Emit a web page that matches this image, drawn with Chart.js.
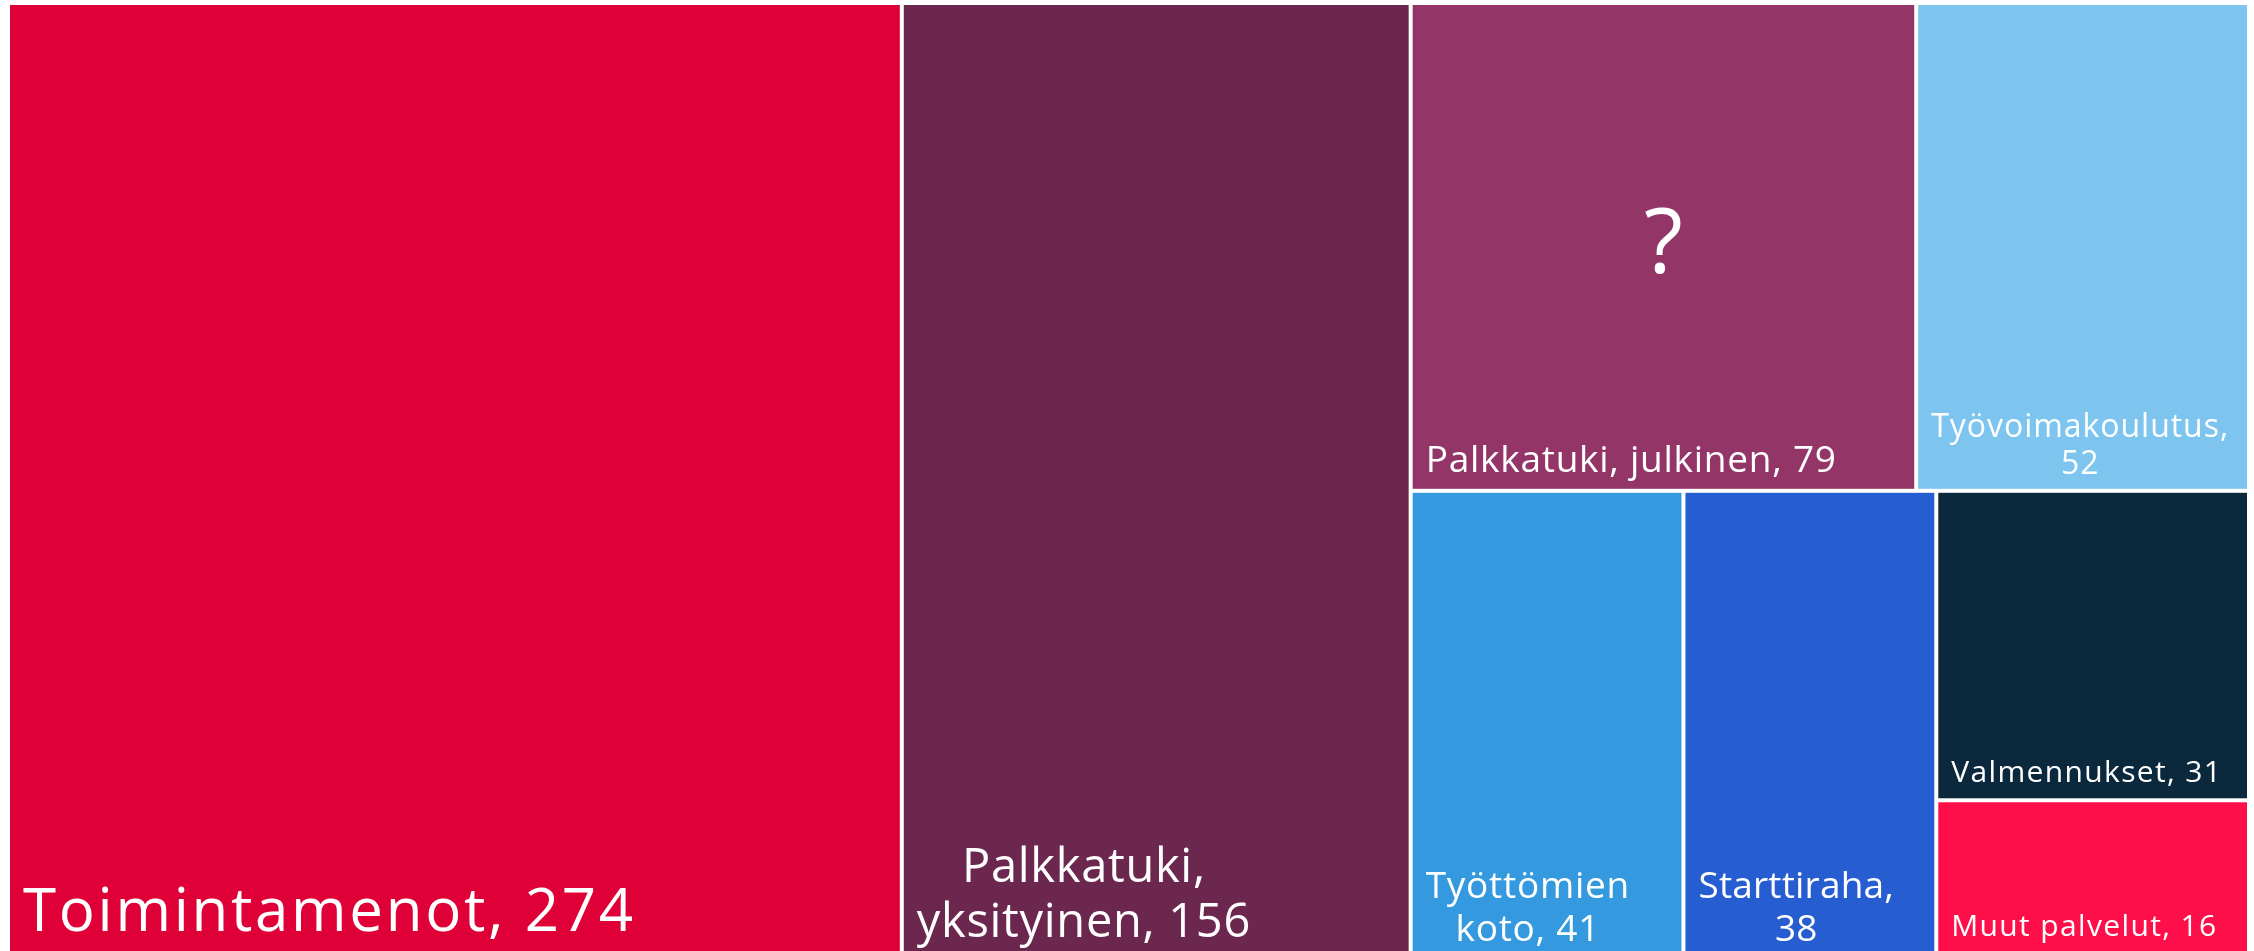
<!DOCTYPE html>
<html>
<head>
<meta charset="utf-8">
<script src="https://cdn.jsdelivr.net/npm/chart.js@4.4.0/dist/chart.umd.min.js"></script>
<style>
  html, body { margin: 0; padding: 0; background: #fff; overflow: hidden; height: 951px; }
  #wrap { width: 2254px; height: 960px; }
</style>
</head>
<body>
<div id="wrap"><canvas id="chart1" width="2254" height="960"></canvas></div>
<script>
const categories = [
    'Toimintamenot',
    'Palkkatuki, yksityinen',
    'Palkkatuki, julkinen',
    'Työvoimakoulutus',
    'Työttömien koto',
    'Starttiraha',
    'Valmennukset',
    'Muut palvelut'
]
const values = [274, 156, 79, 52, 41, 38, 31, 16]
const colors = ['#de0037', '#6c274e', '#933567', '#7dc5ef', '#3499de', '#265dd1', '#0b283d', '#ff0f4a']
const fontSizes = [60, 47, 37, 32, 37, 37, 30, 30]
const spacings = [0.045, 0.015, 0.02, 0.03, 0.02, 0.005, 0.045, 0.045]
const bottomPads = [0.45, 0.45, 0.45, 0.45, 0.45, 0.45, 0.55, 0.75]
const markCategory = 'Palkkatuki, julkinen'

function worst(row, side){
    const s = row.reduce((a, b) => a + b, 0)
    const mx = Math.max(...row), mn = Math.min(...row)
    return Math.max(side * side * mx / (s * s), (s * s) / (side * side * mn))
}

// squarified layout, in units where the area is aspect x 1
function squarify(areas, w, h){
    const out = []
    let x = 0, y = 0, i = 0
    while (i < areas.length){
        const side = Math.min(w, h)
        const row = [areas[i]]
        let j = i + 1
        while (j < areas.length && worst(row.concat(areas[j]), side) <= worst(row, side)){
            row.push(areas[j]); j++
        }
        const s = row.reduce((a, b) => a + b, 0)
        if (w >= h){
            const cw = s / h
            let yy = y
            row.forEach(a => { const rh = a / cw; out.push({x: x, y: yy, w: cw, h: rh}); yy += rh })
            x += cw; w -= cw
        } else {
            const rh = s / w
            let xx = x
            row.forEach(a => { const rw = a / rh; out.push({x: xx, y: y, w: rw, h: rh}); xx += rw })
            y += rh; h -= rh
        }
        i = j
    }
    return out
}

function wrapText(ctx, text, maxW){
    const words = text.split(' ')
    const lines = []
    let cur = ''
    words.forEach(wd => {
        const test = cur ? cur + ' ' + wd : wd
        if (cur && ctx.measureText(test).width > maxW){ lines.push(cur); cur = wd }
        else cur = test
    })
    if (cur) lines.push(cur)
    return lines
}

const treemapPlugin = {
    id: 'treemap',
    afterDatasetsDraw(chart){
        const ctx = chart.ctx
        const area = chart.chartArea
        const xs = chart.scales.x, ys = chart.scales.y
        const aspect = area.width / area.height
        const total = values.reduce((a, b) => a + b, 0)
        const areas = values.map(v => v / total * aspect)
        const rects = squarify(areas, aspect, 1)
        const gap = 2
        const family = '"Open Sans", "Noto Sans", sans-serif'
        ctx.save()
        rects.forEach((r, i) => {
            const x0 = xs.getPixelForValue(r.x / aspect) + gap
            const x1 = xs.getPixelForValue((r.x + r.w) / aspect) - gap
            const y0 = ys.getPixelForValue(r.y) + gap
            const y1 = ys.getPixelForValue(r.y + r.h) - gap
            ctx.fillStyle = colors[i]
            ctx.fillRect(x0, y0, x1 - x0, y1 - y0)

            const fs = fontSizes[i]
            const pad = 13
            ctx.font = fs + 'px ' + family
            ctx.letterSpacing = (fs * spacings[i]).toFixed(2) + 'px'
            ctx.fillStyle = '#ffffff'
            const lines = wrapText(ctx, categories[i] + ', ' + values[i], x1 - x0 - 2 * pad)
            const blockW = Math.max(...lines.map(l => ctx.measureText(l).width))
            const lh = fs * 1.16
            const cx = x0 + pad + blockW / 2
            let base = y1 - fs * bottomPads[i] - (lines.length - 1) * lh
            ctx.textAlign = 'center'
            ctx.textBaseline = 'alphabetic'
            lines.forEach(l => { ctx.fillText(l, cx, base); base += lh })

            if (categories[i] === markCategory){
                ctx.letterSpacing = '0px'
                ctx.font = '500 90px ' + family
                ctx.fillText('?', (x0 + x1) / 2, (y0 + y1) / 2 + 26)
            }
        })
        ctx.restore()
    }
}

function loadChart(){
    const ctx1 = document.getElementById('chart1').getContext('2d')

    const config = {
        type: 'scatter',
        data: {
            labels: categories,
            datasets: [{ data: [], pointRadius: 0 }]
        },
        options: {
            responsive: false,
            animation: false,
            layout: { padding: { left: 8, right: 5, top: 3, bottom: 0 } },
            scales: {
                x: { type: 'linear', min: 0, max: 1, display: false },
                y: { type: 'linear', min: 0, max: 1, reverse: true, display: false }
            },
            plugins: {
                legend: { display: false },
                tooltip: { enabled: false }
            }
        },
        plugins: [treemapPlugin]
    }

    const chart1 = new Chart(ctx1, config)
}

loadChart()
</script>
</body>
</html>
